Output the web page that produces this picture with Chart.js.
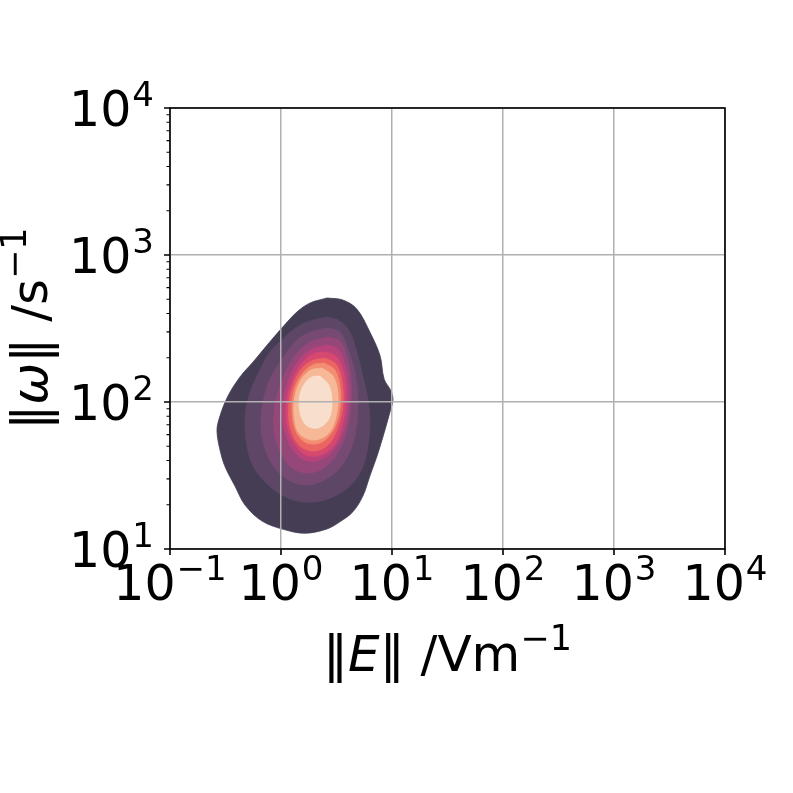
<!DOCTYPE html>
<html>
<head>
<meta charset="utf-8">
<script src="https://cdn.jsdelivr.net/npm/chart.js@4.4.1/dist/chart.umd.min.js"></script>
<style>
  html, body { margin: 0; padding: 0; background: #fff; }
  #wrap { width: 793px; height: 793px; }
</style>
</head>
<body>
<div id="wrap"><canvas id="kde" width="793" height="793"></canvas></div>
<script>
/* ================================
   Data
================================ */
const xTickVals = [0.1, 1, 10, 100, 1000, 10000];
const xTickExp = ["−1", "0", "1", "2", "3", "4"];
const yTickVals = [10, 100, 1000, 10000];
const yTickExp = ["1", "2", "3", "4"];

// KDE contour outlines, ||E|| in V/m and ||omega|| in 1/s, outermost level first
const c1E = [2.60, 3.61, 4.82, 6.32, 7.81, 8.50, 9.79, 10.2, 9.59, 8.33, 7.33, 6.32, 5.46, 4.44, 3.39, 2.60, 1.65, 1.09, 0.674, 0.474, 0.385, 0.320, 0.288, 0.265, 0.282, 0.333, 0.427, 0.560, 0.764, 1.00, 1.39, 1.83];
const c1W = [510, 494, 429, 299, 206, 143, 119, 103, 85.5, 58.7, 42.9, 31.4, 22.9, 17.9, 15.3, 13.7, 12.8, 13.5, 15.5, 19.9, 26.8, 35.0, 44.3, 63.5, 80.3, 110, 148, 187, 248, 314, 409, 472];
const c2E = [2.60, 3.39, 4.17, 4.82, 5.46, 6.07, 6.32, 6.07, 5.35, 4.17, 2.94, 2.03, 1.39, 0.979, 0.718, 0.560, 0.494, 0.474, 0.504, 0.608, 0.796, 1.04, 1.39, 1.83];
const c2W = [379, 356, 299, 219, 150, 105, 73.1, 50.2, 35.0, 26.8, 22.6, 20.9, 21.2, 23.7, 28.6, 36.7, 50.2, 73.1, 105, 150, 219, 268, 324, 356];
const c3E = [2.65, 3.39, 4.00, 4.62, 4.92, 4.82, 4.26, 3.32, 2.34, 1.65, 1.16, 0.883, 0.718, 0.660, 0.689, 0.796, 1.02, 1.37, 1.83];
const c3W = [319, 299, 229, 160, 108, 70.8, 47.9, 35.0, 29.0, 27.2, 29.5, 35.6, 47.9, 68.7, 100, 143, 196, 260, 299];
const c4E = [2.65, 3.39, 3.92, 4.26, 4.26, 3.92, 3.19, 2.34, 1.68, 1.26, 1.02, 0.883, 0.865, 0.959, 1.13, 1.45, 1.94];
const c4W = [277, 260, 202, 143, 96.9, 63.5, 44.3, 35.0, 32.9, 35.6, 43.6, 58.7, 85.5, 123, 168, 222, 260];
const c5E = [2.60, 3.26, 3.76, 4.09, 4.00, 3.54, 2.76, 2.07, 1.55, 1.23, 1.06, 1.04, 1.16, 1.39, 1.83];
const c5W = [244, 229, 181, 128, 86.9, 58.7, 44.3, 39.7, 41.0, 49.4, 67.6, 96.9, 139, 184, 226];
const c6E = [2.54, 3.19, 3.69, 3.84, 3.61, 3.06, 2.29, 1.68, 1.31, 1.13, 1.13, 1.28, 1.55, 1.94];
const c6W = [219, 202, 155, 108, 73.1, 51.8, 43.6, 43.6, 52.6, 70.8, 103, 143, 184, 212];
const c7E = [2.49, 3.13, 3.54, 3.61, 3.26, 2.65, 1.94, 1.45, 1.21, 1.18, 1.31, 1.58, 1.98];
const c7W = [199, 181, 139, 96.9, 67.6, 51.0, 46.4, 51.0, 67.6, 96.9, 135, 173, 193];
const c8E = [2.44, 3.06, 3.39, 3.39, 3.00, 2.34, 1.71, 1.37, 1.26, 1.31, 1.55, 1.94];
const c8W = [184, 165, 127, 89.6, 65.5, 53.4, 52.6, 62.5, 85.5, 119, 155, 179];
const c9E = [2.34, 2.94, 3.26, 3.13, 2.65, 1.94, 1.45, 1.31, 1.34, 1.51, 1.86];
const c9W = [170, 150, 113, 79.1, 60.6, 55.1, 61.5, 81.6, 110, 141, 165];
const c10E = [2.25, 2.70, 2.88, 2.70, 2.15, 1.68, 1.48, 1.48, 1.65, 1.90];
const c10W = [150, 130, 100, 76.6, 66.5, 69.8, 85.5, 112, 135, 148];

const levelColors = ["#443d54", "#5d4666", "#774a73", "#95477a", "#b7437a",
                     "#d64870", "#ea6562", "#f28e72", "#f6b897", "#f8dfcd"];

/* ================================
   Helpers
================================ */
const FONT = "'DejaVu Sans', sans-serif";
const GRID = "#b0b0b0";

function ring(es, ws) {
  const pts = es.map((e, i) => ({ x: e, y: ws[i] }));
  pts.push(pts[0]); // close the outline
  return pts;
}

function isDecade(v) {
  const l = Math.log10(v);
  return Math.abs(l - Math.round(l)) < 1e-9;
}

// "10" with a raised exponent, like matplotlib's mathtext
function powWidth(ctx, exp, size) {
  ctx.font = size + "px " + FONT;
  const wb = ctx.measureText("10").width;
  ctx.font = Math.round(size * 0.7) + "px " + FONT;
  return wb + 1 + ctx.measureText(exp).width;
}

function drawPow(ctx, x, baseline, exp, size) {
  ctx.textAlign = "left";
  ctx.textBaseline = "alphabetic";
  ctx.font = size + "px " + FONT;
  ctx.fillText("10", x, baseline);
  const wb = ctx.measureText("10").width;
  ctx.font = Math.round(size * 0.7) + "px " + FONT;
  ctx.fillText(exp, x + wb + 1, baseline - size * 0.4);
}

// pieces: [text, italic, sup]
function drawRich(ctx, pieces, cx, baseline, size) {
  const fontOf = p => (p[1] ? "italic " : "") + Math.round(p[2] ? size * 0.7 : size) + "px " + FONT;
  let total = 0;
  pieces.forEach(p => { ctx.font = fontOf(p); total += ctx.measureText(p[0]).width; });
  let x = cx - total / 2;
  ctx.textAlign = "left";
  ctx.textBaseline = "alphabetic";
  pieces.forEach(p => {
    ctx.font = fontOf(p);
    ctx.fillText(p[0], x, baseline - (p[2] ? size * 0.42 : 0));
    x += ctx.measureText(p[0]).width;
  });
}

/* ================================
   Axes decoration plugin
================================ */
const axisDecor = {
  id: "axisDecor",
  afterDraw(chart) {
    const ctx = chart.ctx;
    const a = chart.chartArea;
    const xs = chart.scales.x, ys = chart.scales.y;
    ctx.save();

    // frame
    ctx.strokeStyle = "#000";
    ctx.lineWidth = 1.6;
    ctx.strokeRect(a.left, a.top, a.right - a.left, a.bottom - a.top);

    // major ticks
    ctx.beginPath();
    xTickVals.forEach(v => {
      const px = xs.getPixelForValue(v);
      ctx.moveTo(px, a.bottom); ctx.lineTo(px, a.bottom + 6);
    });
    yTickVals.forEach(v => {
      const py = ys.getPixelForValue(v);
      ctx.moveTo(a.left, py); ctx.lineTo(a.left - 6, py);
    });
    ctx.stroke();

    // minor ticks on y
    ctx.lineWidth = 1.1;
    ctx.beginPath();
    for (let i = 0; i < yTickVals.length - 1; i++) {
      for (let m = 2; m < 10; m++) {
        const py = ys.getPixelForValue(yTickVals[i] * m);
        ctx.moveTo(a.left, py); ctx.lineTo(a.left - 3.5, py);
      }
    }
    ctx.stroke();

    // tick labels
    ctx.fillStyle = "#000";
    const TS = 49;
    xTickVals.forEach((v, i) => {
      const px = xs.getPixelForValue(v);
      const w = powWidth(ctx, xTickExp[i], TS);
      drawPow(ctx, px - w / 2, a.bottom + 51, xTickExp[i], TS);
    });
    yTickVals.forEach((v, i) => {
      const py = ys.getPixelForValue(v);
      const w = powWidth(ctx, yTickExp[i], TS);
      drawPow(ctx, a.left - 16 - w, py + 18, yTickExp[i], TS);
    });

    // axis titles
    const LS = 50;
    drawRich(ctx, [["‖", false, false], ["E", true, false], ["‖ /Vm", false, false], ["−1", false, true]],
             (a.left + a.right) / 2, 671, LS);
    ctx.save();
    ctx.translate(47, (a.top + a.bottom) / 2);
    ctx.rotate(-Math.PI / 2);
    drawRich(ctx, [["‖", false, false], ["ω", true, false], ["‖ /s", false, false], ["−1", false, true]],
             0, 0, LS);
    ctx.restore();

    ctx.restore();
  }
};

/* ================================
   Chart
================================ */
const rings = [ring(c1E, c1W), ring(c2E, c2W), ring(c3E, c3W), ring(c4E, c4W), ring(c5E, c5W),
               ring(c6E, c6W), ring(c7E, c7W), ring(c8E, c8W), ring(c9E, c9W), ring(c10E, c10W)];

const datasets = rings.map((pts, i) => ({
  data: pts,
  showLine: true,
  fill: "shape",
  backgroundColor: levelColors[i],
  borderColor: levelColors[i],
  borderWidth: 0.8,
  pointRadius: 0,
  tension: 0.35,
  order: rings.length - i // outer level underneath
}));

const gridOpts = {
  z: 1,
  drawTicks: false,
  lineWidth: 1.5,
  color: c => (c.tick && isDecade(c.tick.value)) ? GRID : "rgba(0,0,0,0)"
};

new Chart(document.getElementById("kde"), {
  type: "scatter",
  data: { datasets },
  options: {
    responsive: false,
    animation: false,
    layout: { padding: { top: 108, right: 68, left: 0, bottom: 0 } },
    plugins: { legend: { display: false }, tooltip: { enabled: false } },
    scales: {
      x: {
        type: "logarithmic",
        min: 0.1, max: 10000,
        grid: gridOpts,
        border: { display: false },
        ticks: { display: false },
        afterFit: s => { s.height = 244; }
      },
      y: {
        type: "logarithmic",
        min: 10, max: 10000,
        grid: gridOpts,
        border: { display: false },
        ticks: { display: false },
        afterFit: s => { s.width = 170; }
      }
    }
  },
  plugins: [axisDecor]
});
</script>
</body>
</html>
